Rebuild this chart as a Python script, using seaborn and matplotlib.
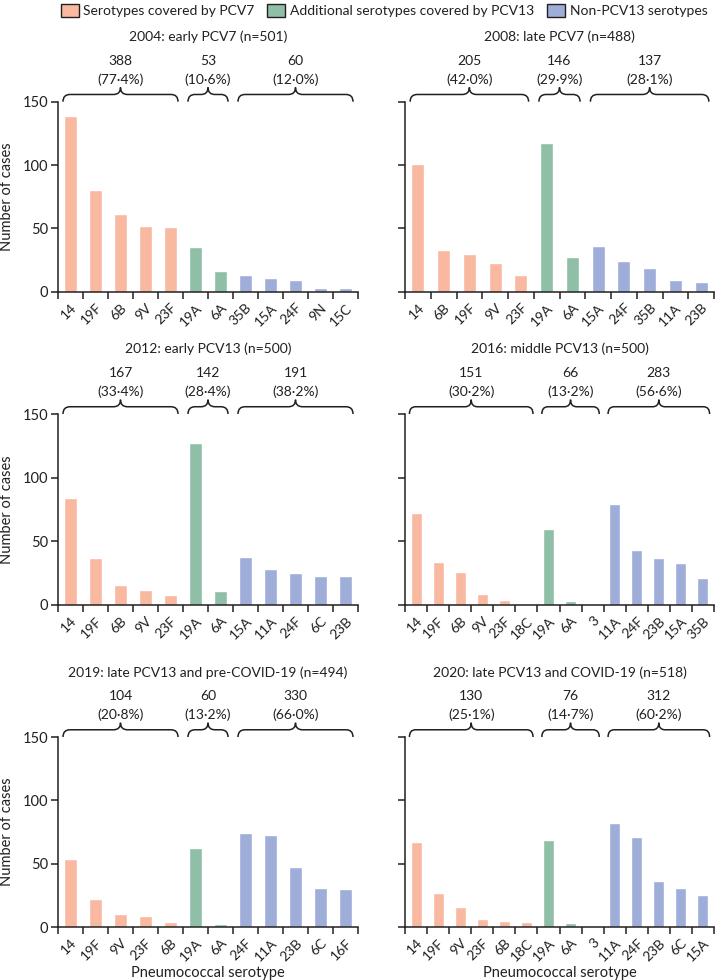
import numpy as np
import pandas as pd
import seaborn as sns
import matplotlib.pyplot as plt
from matplotlib.path import Path
from matplotlib.patches import PathPatch, Patch
import matplotlib.transforms as mtransforms

sns.set_theme(style='ticks')
plt.rcParams['font.family'] = ['Lato', 'DejaVu Sans']
plt.rcParams['text.color'] = '#231f20'
plt.rcParams['axes.labelcolor'] = '#231f20'
plt.rcParams['xtick.color'] = '#231f20'
plt.rcParams['ytick.color'] = '#231f20'

group_names = ['Serotypes covered by PCV7',
               'Additional serotypes covered by PCV13',
               'Non-PCV13 serotypes']
colors = {'Serotypes covered by PCV7': '#f9b8a0',
          'Additional serotypes covered by PCV13': '#8fbfa6',
          'Non-PCV13 serotypes': '#9eaed9'}

titles = ['2004: early PCV7 (n=501)',
          '2008: late PCV7 (n=488)',
          '2012: early PCV13 (n=500)',
          '2016: middle PCV13 (n=500)',
          '2019: late PCV13 and pre-COVID-19 (n=494)',
          '2020: late PCV13 and COVID-19 (n=518)']

serotypes_2004 = ['14', '19F', '6B', '9V', '23F', '19A', '6A', '35B', '15A', '24F', '9N', '15C']
cases_2004 = [139, 80, 61, 52, 51, 35, 16, 13, 11, 9, 3, 3]
serotypes_2008 = ['14', '6B', '19F', '9V', '23F', '19A', '6A', '15A', '24F', '35B', '11A', '23B']
cases_2008 = [101, 33, 30, 23, 13, 117, 27, 36, 24, 19, 9, 8]
serotypes_2012 = ['14', '19F', '6B', '9V', '23F', '19A', '6A', '15A', '11A', '24F', '6C', '23B']
cases_2012 = [84, 37, 16, 12, 8, 127, 11, 38, 28, 25, 23, 23]
serotypes_2016 = ['14', '19F', '6B', '9V', '23F', '18C', '19A', '6A', '3', '11A', '24F', '23B', '15A', '35B']
cases_2016 = [72, 34, 26, 9, 4, 0, 60, 3, 0, 79, 43, 37, 33, 21]
serotypes_2019 = ['14', '19F', '9V', '23F', '6B', '19A', '6A', '24F', '11A', '23B', '6C', '16F']
cases_2019 = [54, 22, 10, 9, 4, 62, 2, 74, 73, 47, 31, 30]
serotypes_2020 = ['14', '19F', '9V', '23F', '6B', '18C', '19A', '6A', '3', '11A', '24F', '23B', '6C', '15A']
cases_2020 = [67, 27, 16, 6, 5, 4, 69, 3, 1, 82, 71, 36, 31, 25]

# number of bars in each group (PCV7, PCV13 extra, non-PCV13)
group_sizes = [[5, 2, 5], [5, 2, 5], [5, 2, 5], [6, 3, 5], [5, 2, 5], [6, 3, 5]]
group_totals = [[388, 53, 60], [205, 146, 137], [167, 142, 191],
                [151, 66, 283], [104, 60, 330], [130, 76, 312]]
group_pcts = [['77·4%', '10·6%', '12·0%'], ['42·0%', '29·9%', '28·1%'],
              ['33·4%', '28·4%', '38·2%'], ['30·2%', '13·2%', '56·6%'],
              ['20·8%', '13·2%', '66·0%'], ['25·1%', '14·7%', '60·2%']]

serotypes = [serotypes_2004, serotypes_2008, serotypes_2012,
             serotypes_2016, serotypes_2019, serotypes_2020]
cases = [cases_2004, cases_2008, cases_2012, cases_2016, cases_2019, cases_2020]


def draw_brace(ax, x0, x1, lw=1.1):
    trans = mtransforms.blended_transform_factory(ax.transData, ax.transAxes)
    xm = (x0 + x1) / 2
    r = 0.28
    y0, y1, y2 = 1.0, 1.038, 1.075
    verts = [(x0, y0), (x0, y1), (x0 + r, y1),
             (xm - r, y1), (xm, y1), (xm, y2),
             (xm, y1), (xm + r, y1),
             (x1 - r, y1), (x1, y1), (x1, y0)]
    codes = [Path.MOVETO, Path.CURVE3, Path.CURVE3,
             Path.LINETO, Path.CURVE3, Path.CURVE3,
             Path.CURVE3, Path.CURVE3,
             Path.LINETO, Path.CURVE3, Path.CURVE3]
    patch = PathPatch(Path(verts, codes), transform=trans, fill=False,
                      lw=lw, edgecolor='#231f20', clip_on=False)
    ax.add_patch(patch)


fig = plt.figure(figsize=(7.16, 9.8), dpi=100)
W, H = 716, 980
col_x = [(58, 300), (405, 309)]
row_y = [(101.7, 291.7), (414, 605), (737, 927)]

for k in range(6):
    row, col = divmod(k, 2)
    x, w = col_x[col]
    top, bottom = row_y[row]
    ax = fig.add_axes([x / W, 1 - bottom / H, w / W, (bottom - top) / H])

    groups = []
    for g, size in enumerate(group_sizes[k]):
        groups += [group_names[g]] * size
    df = pd.DataFrame({'serotype': serotypes[k], 'cases': cases[k], 'group': groups})
    n = len(df)

    sns.barplot(data=df, x='serotype', y='cases', hue='group', palette=colors,
                dodge=False, width=0.5, legend=False, ax=ax, saturation=1)

    ax.set_xlim(-0.5, n - 0.5)
    ax.set_ylim(0, 150)
    ax.set_yticks([0, 50, 100, 150])
    if col == 1:
        ax.set_yticklabels([])
    ax.set_xticks(np.arange(n))
    ax.set_xticklabels(serotypes[k], rotation=45, ha='right', rotation_mode='anchor',
                       fontsize=10)
    ax.set_xticks(np.arange(n + 1) - 0.5, minor=True)
    ax.tick_params(axis='x', which='major', length=0, pad=7)
    ax.tick_params(axis='x', which='minor', length=5, width=1.1, direction='out')
    ax.tick_params(axis='y', length=5, width=1.1, labelsize=10.5, pad=2)
    ax.set_xlabel('')
    ax.set_ylabel('')
    for s in ['top', 'right']:
        ax.spines[s].set_visible(False)
    for s in ['left', 'bottom']:
        ax.spines[s].set_linewidth(1.1)
        ax.spines[s].set_color('#231f20')

    # group braces with counts
    start = 0
    for g, size in enumerate(group_sizes[k]):
        x0 = start - 0.3
        x1 = start + size - 1 + 0.3
        x1 = min(x1, n - 0.5)
        draw_brace(ax, x0, x1)
        xm = (x0 + x1) / 2
        ax.text(xm, 1.215, str(group_totals[k][g]), transform=ax.get_xaxis_transform(),
                ha='center', va='center', fontsize=10)
        ax.text(xm, 1.115, '(' + group_pcts[k][g] + ')', transform=ax.get_xaxis_transform(),
                ha='center', va='center', fontsize=10)
        start += size

    ax.text(0.5, 1.34, titles[k], transform=ax.transAxes, ha='center', va='center',
            fontsize=10)
    if col == 0:
        ax.text(-0.17, 0.5, 'Number of cases', transform=ax.transAxes, rotation=90,
                ha='center', va='center', fontsize=10.5)
    if row == 2:
        ax.text(0.5, -0.24, 'Pneumococcal serotype', transform=ax.transAxes,
                ha='center', va='center', fontsize=10.5)

handles = [Patch(facecolor=colors[g], edgecolor='#231f20', linewidth=1, label=g)
           for g in group_names]
fig.legend(handles=handles, loc='upper right', bbox_to_anchor=(0.99, 0.997), ncol=3,
           frameon=False, fontsize=10, handlelength=1.3, handleheight=1.0,
           handletextpad=0.35, columnspacing=0.9, borderaxespad=0, borderpad=0.1)

fig.savefig('out.png', dpi=100)
